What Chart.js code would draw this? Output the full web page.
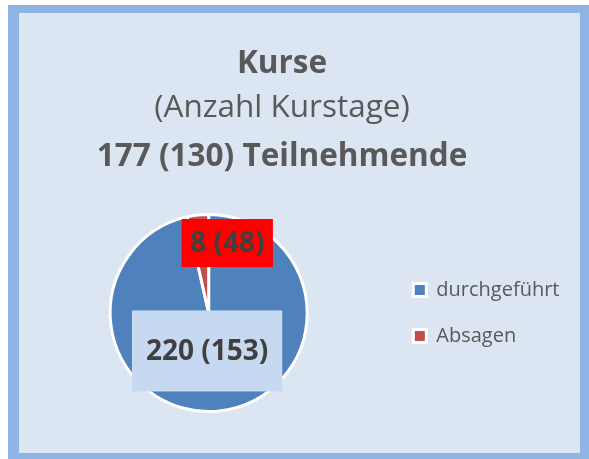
<!DOCTYPE html>
<html>
<head>
<meta charset="utf-8">
<script src="https://cdn.jsdelivr.net/npm/chart.js@4"></script>
<style>
html, body { margin: 0; padding: 0; background: #fff; overflow: hidden; }
#frame {
    position: absolute; left: 8px; top: 5px; width: 583px; height: 459px;
    box-sizing: border-box; border: 11px solid #8EB4E3; border-top-width: 8px;
    background: #DCE6F2;
}
#chart { position: absolute; left: 0; top: 0; }
</style>
</head>
<body>
<div id="frame"></div>
<canvas id="chart" width="589" height="459"></canvas>
<script>
// Daten
const categories = ['durchgeführt', 'Absagen'];
const kursTage = [220, 8];          // aktuelle Werte
const vorjahrTage = [153, 48];      // Werte in Klammern
const teilnehmende = [177, 130];    // aktuell, Vorjahr
const sliceColors = ['#4F81BD', '#C0504D'];

const titleLines = [
    { text: 'Kurse', bold: true, y: 73 },
    { text: '(Anzahl Kurstage)', bold: false, y: 117 },
    { text: teilnehmende[0] + ' (' + teilnehmende[1] + ') Teilnehmende', bold: true, y: 166 }
];

// Beschriftungen der Segmente (Versatz zur Segmentmitte, Box-Polster, Hintergrund)
const labelStyle = [
    { dx: -7, dy: -11, padX: 14, padY: 26.5, bg: '#C6D9F1' },
    { dx: 24, dy: -21, padX: 8.5, padY: 10, bg: '#FF0000' }
];

Chart.defaults.font.family = '"Open Sans", sans-serif';

const titlePlugin = {
    id: 'kursTitel',
    afterDraw(chart) {
        const ctx = chart.ctx;
        ctx.save();
        ctx.fillStyle = '#595959';
        ctx.textAlign = 'center';
        ctx.textBaseline = 'alphabetic';
        titleLines.forEach(line => {
            ctx.font = (line.bold ? 'bold ' : '') + '31.5px "Open Sans"';
            ctx.fillText(line.text, 282, line.y);
        });
        ctx.restore();
    }
};

const labelPlugin = {
    id: 'segmentLabels',
    afterDatasetsDraw(chart) {
        const ctx = chart.ctx;
        const meta = chart.getDatasetMeta(0);
        ctx.save();
        ctx.font = 'bold 28px "Open Sans"';
        ctx.textAlign = 'center';
        ctx.textBaseline = 'middle';
        meta.data.forEach((arc, i) => {
            const p = arc.tooltipPosition();
            const s = labelStyle[i];
            const x = p.x + s.dx;
            const y = p.y + s.dy;
            const text = kursTage[i] + ' (' + vorjahrTage[i] + ')';
            const w = ctx.measureText(text).width + 2 * s.padX;
            const h = 28 + 2 * s.padY;
            ctx.fillStyle = s.bg;
            ctx.fillRect(x - w / 2, y - h / 2, w, h);
            ctx.fillStyle = '#404040';
            ctx.fillText(text, x, y + 1);
        });
        ctx.restore();
    }
};

const ctx = document.getElementById('chart').getContext('2d');
new Chart(ctx, {
    type: 'pie',
    data: {
        labels: categories,
        datasets: [{
            data: kursTage,
            backgroundColor: sliceColors,
            borderColor: '#FFFFFF',
            borderWidth: 3
        }]
    },
    options: {
        responsive: false,
        animation: false,
        layout: { padding: { top: 213, bottom: 46, left: 30, right: 19.5 } },
        plugins: {
            legend: {
                position: 'right',
                labels: {
                    boxWidth: 13,
                    boxHeight: 13,
                    padding: 26,
                    color: '#595959',
                    font: { size: 20 }
                }
            },
            tooltip: { enabled: false }
        }
    },
    plugins: [titlePlugin, labelPlugin]
});
</script>
</body>
</html>
